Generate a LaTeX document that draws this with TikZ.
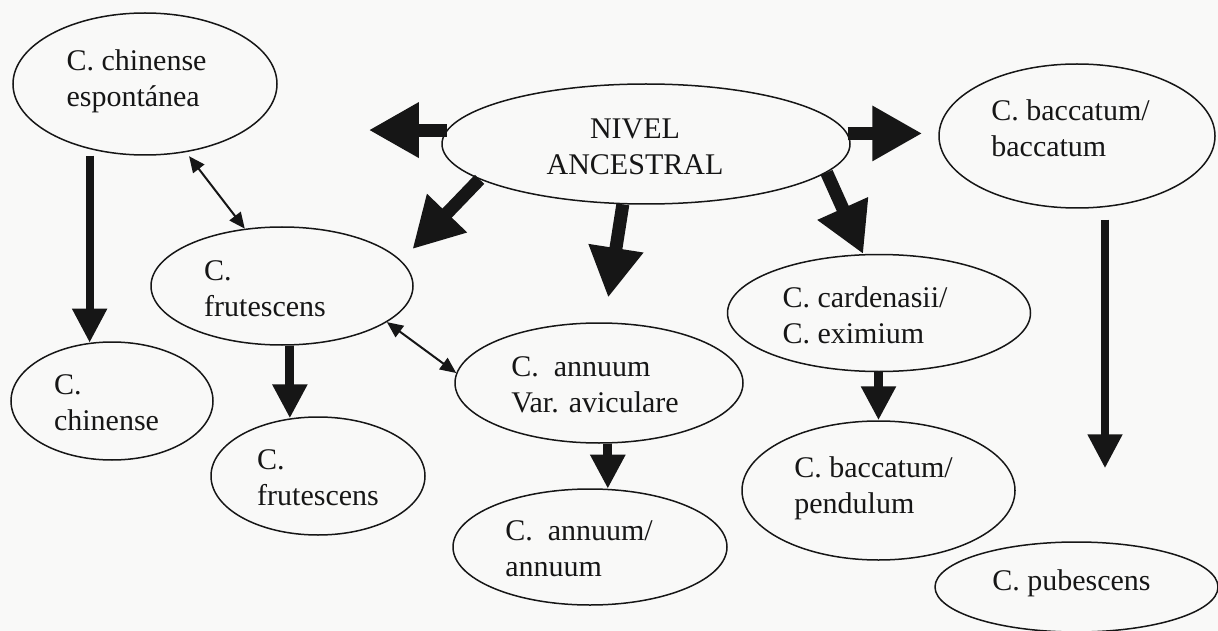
\documentclass[tikz,border=0pt]{standalone}
\usepackage{fontspec}
\setmainfont{Liberation Serif}
\usetikzlibrary{arrows.meta,shapes.geometric,positioning,calc}
\definecolor{paper}{RGB}{249,249,248}
\definecolor{ink}{RGB}{22,22,22}

\begin{document}
\begin{tikzpicture}[x=1pt,y=-1pt,
  font=\fontsize{30}{36}\selectfont,
  sp/.style={draw=ink, line width=1.5pt, ellipse, inner sep=0pt},
  txt/.style={align=left, inner sep=0pt, text=ink},
  bigarrow/.style={-{Triangle[length=50pt,width=52pt]}, line width=13pt, ink},
  midarrow/.style={-{Triangle[length=34pt,width=33pt]}, line width=9pt, ink},
  linkarrow/.style={{Triangle[length=16pt,width=14pt]}-{Triangle[length=16pt,width=14pt]}, line width=2pt, ink}]
% Paper
\fill[paper] (0,0) rectangle (1218,631);
\useasboundingbox (0,0) rectangle (1218,631);
% Species ellipses
\node[sp, minimum width=264pt, minimum height=142pt] (esp) at (145,84) {};
\node[sp, minimum width=408pt, minimum height=120pt] (anc) at (646,144) {};
\node[sp, minimum width=276pt, minimum height=144pt] (bac) at (1077,136) {};
\node[sp, minimum width=262pt, minimum height=118pt] (fru1) at (282,286) {};
\node[sp, minimum width=202pt, minimum height=118pt] (chi) at (112,401) {};
\node[sp, minimum width=214pt, minimum height=118pt] (fru2) at (318,476) {};
\node[sp, minimum width=288pt, minimum height=120pt] (avi) at (599,383) {};
\node[sp, minimum width=274pt, minimum height=116pt] (ann) at (590,547) {};
\node[sp, minimum width=303pt, minimum height=117pt] (card) at (879,313) {};
\node[sp, minimum width=273pt, minimum height=139pt] (pen) at (878.5,490.5) {};
\node[sp, minimum width=283pt, minimum height=90pt] (pub) at (1076.5,587) {};
% Names
\node[txt] (esp-t) at (136.5,81) {C. chinense\\espontánea};
\node[txt, align=center] (anc-t) at (635,147) {NIVEL\\ANCESTRAL};
\node[txt] (bac-t) at (1070.5,128.5) {C. baccatum/\\baccatum};
\node[txt] (fru1-t) at (265,289) {C.\\frutescens};
\node[txt] (chi-t) at (106.5,402.5) {C.\\chinense};
\node[txt] (fru2-t) at (318,478) {C.\\frutescens};
\node[txt] (avi-t) at (595,385) {C.\ \ annuum\\Var. aviculare};
\node[txt] (ann-t) at (579,549) {C.\ \ annuum/\\annuum};
\node[txt] (card-t) at (865,315) {C. cardenasii/\\C. eximium};
\node[txt] (pen-t) at (873.5,488) {C. baccatum/\\pendulum};
\node[txt] (pub-t) at (1071.5,583) {C. pubescens};
% Out of the ancestral level
\draw[bigarrow, shorten >=91pt] (anc.176) -- (anc.176 -| esp.east);
\draw[bigarrow, shorten >=16pt] (anc.3) -- (anc.3 -| bac.west);
\draw[bigarrow, shorten >=16pt] (anc.192) -- (fru1.12);
\draw[bigarrow, shorten >=25pt] (anc.249) -- (avi.85);
\draw[bigarrow] (anc.351) -- (card.105);
% Descent
\draw[midarrow, line width=8pt] (esp.south -| chi.111) -- (chi.111);
\draw[midarrow] (fru1.south -| fru2.116) -- (fru2.116);
\draw[midarrow] (avi.south -| ann.73) -- (ann.73);
\draw[midarrow] (card.south -| pen.north) -- (pen.north);
\draw[midarrow, line width=8pt, shorten <=11pt, shorten >=73pt] ([xshift=28pt]bac.south) -- ([xshift=28pt]bac.south |- pub.north);
% Two-way links
\draw[linkarrow, shorten <=5pt] (esp.301) -- (fru1.123);
\draw[linkarrow] (fru1.341) -- (avi.176);
\end{tikzpicture}
\end{document}
